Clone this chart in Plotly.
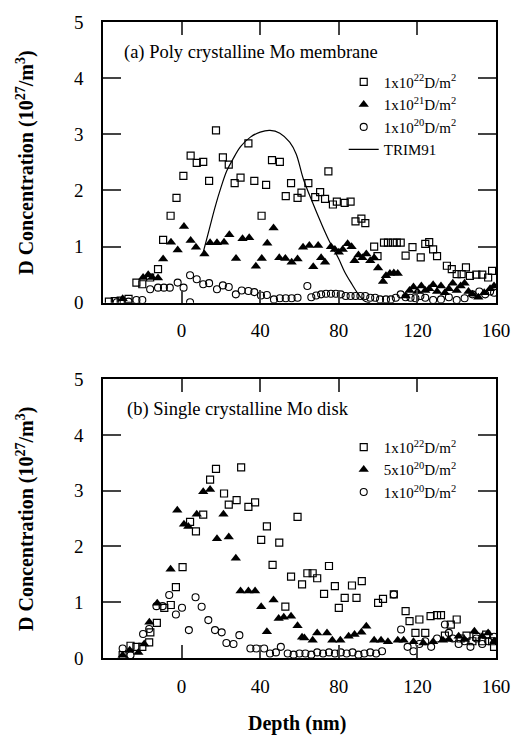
import plotly.graph_objects as go

# ---------------- data: panel (a) poly crystalline Mo membrane ----------------
a_sq_x = [-37, -34, -31, -27, -23, -20, -16, -12, -9.4, -5.6, -2.6, 0.9, 4.6, 7.7, 11, 14, 17.5, 21, 24, 27,
          30, 34, 37, 40.7, 43, 46, 50, 53, 55.7, 59, 61, 64.5, 68, 70.5, 73, 74.7, 77, 79, 83, 86,
          88.5, 91.5, 93.5, 98, 99.7, 103, 105, 107.5, 109.5, 111.5, 114, 117.5, 121.7, 124, 126, 128, 130,
          135, 137.5, 140, 142.5, 144.7, 146.7, 150, 153, 156, 158]
a_sq_y = [0.02, 0.03, 0.04, 0.07, 0.36, 0.33, 0.45, 0.6, 1.12, 1.55, 1.87, 2.26, 2.62, 2.49, 2.51, 2.17, 3.07, 2.59, 2.46, 2.13,
          2.23, 2.84, 2.17, 1.55, 2.1, 2.54, 2.51, 1.9, 2.13, 1.87, 1.96, 2.13, 1.88, 1.97, 1.85, 2.34, 1.75, 1.8, 1.78, 1.8,
          1.45, 1.5, 1.42, 1.0, 0.83, 1.07, 1.07, 1.07, 1.07, 1.07, 0.84, 0.99, 0.81, 1.05, 1.08, 0.95, 0.83,
          0.66, 0.6, 0.51, 0.51, 0.63, 0.48, 0.5, 0.5, 0.45, 0.57]

a_tr_x = [-30, -19.6, -17, -15, -12, -9.4, -5.4, -2, 1.2, 4.6, 7.3, 11.6, 14.5, 18, 21.6, 24.3, 27.7, 31, 34.4, 37.8,
          40.8, 43.6, 46.8, 49.7, 52.8, 56, 59, 61.8, 65, 67, 69.5, 71, 73, 76, 78, 80, 82, 84.5, 86.5, 88,
          90, 92, 94, 96, 98, 100, 102.5, 104, 106, 108, 110, 114, 116, 118, 120, 122, 124, 126, 128, 130,
          132, 134, 136, 138, 140, 142, 144, 146, 148, 151, 154, 157, 159]
a_tr_y = [0.07, 0.45, 0.5, 0.45, 0.44, 0.78, 1.08, 0.94, 1.36, 1.11, 0.99, 0.87, 1.07, 1.07, 1.08, 1.21, 0.79, 1.14, 1.16, 0.65,
          0.79, 1.06, 1.33, 0.8, 0.79, 0.72, 0.78, 0.99, 1.02, 0.64, 1.02, 0.8, 0.72, 1.0, 0.95, 0.9, 0.95, 1.05, 1.0, 0.75,
          0.85, 0.8, 0.87, 0.75, 0.8, 0.62, 0.38, 0.48, 0.52, 0.53, 0.52, 0.12, 0.22, 0.28, 0.2, 0.3, 0.22, 0.25, 0.32, 0.2,
          0.3, 0.18, 0.25, 0.35, 0.22, 0.3, 0.35, 0.2, 0.15, 0.1, 0.18, 0.25, 0.3]

a_ci_x = [-33, -27, -23, -20, -16, -12, -9, -6, -2, 1, 4.3, 4.3, 7.7, 11, 14, 18, 21, 24, 27.6, 30.6,
          34, 37, 40.4, 43.4, 47, 50, 53, 56, 59, 64, 66, 68.5, 71, 73.5, 76, 78.5, 81, 83.5, 86, 88.5,
          91, 93.5, 96, 98.5, 101, 104, 106.5, 109, 111.5, 114, 116.5, 119, 121.5, 124, 128, 132, 136, 140, 144, 148,
          151.5, 154.5, 157, 159]
a_ci_y = [0.01, 0.02, 0.05, 0.05, 0.24, 0.27, 0.27, 0.27, 0.36, 0.27, 0.01, 0.49, 0.42, 0.33, 0.35, 0.24, 0.31, 0.28, 0.15, 0.22,
          0.21, 0.19, 0.13, 0.14, 0.06, 0.08, 0.08, 0.08, 0.09, 0.3, 0.1, 0.13, 0.15, 0.16, 0.16, 0.16, 0.15, 0.12, 0.12, 0.12,
          0.12, 0.12, 0.09, 0.09, 0.06, 0.06, 0.06, 0.09, 0.15, 0.1, 0.09, 0.08, 0.12, 0.09, 0.05, 0.06, 0.1, 0.05, 0.08, 0.15,
          0.2, 0.15, 0.2, 0.18]

trim_x = [11, 14, 17, 20, 23, 26, 30, 35, 40, 45, 50, 55, 58.3, 62, 66.7, 71, 75, 80, 83, 86.7, 90, 93, 96]
trim_y = [0.9, 1.3, 1.7, 2.05, 2.35, 2.55, 2.78, 2.95, 3.04, 3.07, 3.02, 2.86, 2.65, 2.2, 1.78, 1.42, 1.11, 0.78, 0.55, 0.33, 0.15, 0.03, 0.0]

# ---------------- data: panel (b) single crystalline Mo disk ----------------
b_sq_x = [-30, -26, -23, -20, -16.5, -15.9, -12.6, -8.8, -5.5, -2.9, 0.5, 4.3, 7.3, 11, 14.5, 17.5, 21.6, 24, 28, 30.3,
          34, 37.4, 40.5, 43.4, 46.3, 49.7, 52.8, 55.7, 59, 61.3, 64, 66.7, 69, 72.5, 75, 78, 80, 83, 86.7, 89,
          91.7, 100, 102.5, 108, 114, 116, 119, 121, 124, 126.7, 130, 132, 134, 137, 140, 142, 145, 148, 150, 153,
          155, 158, 159]
b_sq_y = [0.05, 0.22, 0.2, 0.2, 0.28, 0.46, 0.63, 0.9, 0.95, 1.27, 1.63, 2.44, 2.27, 2.57, 3.2, 3.39, 2.95, 2.75, 2.83, 3.42,
          2.71, 2.79, 2.12, 2.36, 1.67, 2.07, 0.92, 1.46, 2.53, 1.32, 1.52, 1.52, 1.43, 1.15, 1.65, 1.29, 0.9, 1.08, 1.3, 1.08,
          1.38, 0.99, 1.06, 1.14, 0.84, 0.66, 0.45, 0.69, 0.45, 0.75, 0.77, 0.77, 0.4, 0.6, 0.69, 0.35, 0.4, 0.3, 0.38, 0.3,
          0.42, 0.3, 0.2]

b_tr_x = [-30, -26.4, -22, -19, -16.4, -12.4, -5.6, -2.2, 1.2, 3.4, 7.7, 11, 14.5, 18, 21.3, 24, 27.6, 30, 34, 37.4,
          40.5, 43.4, 46.8, 49.4, 52, 55.7, 59, 61.3, 62.5, 66.7, 69, 74, 76.7, 80.8, 85, 88, 91.5, 94, 98, 101.5,
          105, 110, 113, 118, 123, 128, 133, 136, 141, 144, 149, 153, 156, 159]
b_tr_y = [0.05, 0.14, 0.1, 0.25, 0.64, 0.98, 1.59, 2.65, 2.4, 2.36, 2.58, 2.98, 3.02, 2.14, 2.58, 2.17, 1.79, 1.2, 1.2, 1.2,
          0.92, 0.47, 1.04, 0.71, 0.73, 0.75, 0.58, 0.37, 0.36, 0.32, 0.45, 0.45, 0.32, 0.32, 0.39, 0.42, 0.46, 0.57, 0.32, 0.32,
          0.29, 0.32, 0.32, 0.29, 0.27, 0.29, 0.32, 0.33, 0.39, 0.33, 0.48, 0.39, 0.45, 0.3]

b_ci_x = [-30, -26, -19.6, -16.5, -12.8, -9.7, -6.3, -2.9, 0.2, 3.7, 7.1, 10.2, 13.6, 17, 20.4, 22.8, 26.4, 29.4, 35, 38,
          42, 45, 48, 50.5, 54, 57, 60, 63, 66, 69, 72, 75, 78, 81, 84, 87, 90, 93, 96, 99,
          102, 108, 111.7, 115, 118, 121, 124, 127, 130, 134, 136, 138, 141, 144, 147, 150, 153, 156, 159]
b_ci_y = [0.17, 0.05, 0.43, 0.52, 0.93, 0.93, 1.13, 0.78, 0.9, 0.5, 1.09, 0.92, 0.68, 0.5, 0.46, 0.27, 0.25, 0.41, 0.17, 0.17,
          0.17, 0.08, 0.1, 0.2, 0.08, 0.06, 0.08, 0.08, 0.06, 0.1, 0.08, 0.1, 0.08, 0.1, 0.08, 0.1, 0.06, 0.08, 0.1, 0.08,
          0.12, 1.14, 0.51, 0.2, 0.12, 0.25, 0.3, 0.2, 0.35, 0.6, 0.45, 0.35, 0.25, 0.3, 0.2, 0.35, 0.25, 0.3, 0.38]

x_ticks = [0, 40, 80, 120, 160]
y_ticks = [0, 1, 2, 3, 4, 5]

a_labels = ["1x10<sup>22</sup>D/m<sup>2</sup>", "1x10<sup>21</sup>D/m<sup>2</sup>",
            "1x10<sup>20</sup>D/m<sup>2</sup>", "TRIM91"]
b_labels = ["1x10<sup>22</sup>D/m<sup>2</sup>", "5x10<sup>20</sup>D/m<sup>2</sup>",
            "1x10<sup>20</sup>D/m<sup>2</sup>"]

FONT = "Liberation Serif"

fig = go.Figure()

sq = dict(symbol="square-open", size=7, color="black", line=dict(width=1.2, color="black"))
tr = dict(symbol="triangle-up", size=9, color="black", line=dict(width=0))
ci = dict(symbol="circle-open", size=7, color="black", line=dict(width=1.1, color="black"))

fig.add_trace(go.Scatter(x=a_sq_x, y=a_sq_y, mode="markers", marker=sq, name=a_labels[0],
                         xaxis="x", yaxis="y", legend="legend", legendgroup="a1"))
fig.add_trace(go.Scatter(x=a_tr_x, y=a_tr_y, mode="markers", marker=tr, name=a_labels[1],
                         xaxis="x", yaxis="y", legend="legend", legendgroup="a2"))
fig.add_trace(go.Scatter(x=a_ci_x, y=a_ci_y, mode="markers", marker=ci, name=a_labels[2],
                         xaxis="x", yaxis="y", legend="legend", legendgroup="a3"))
fig.add_trace(go.Scatter(x=trim_x, y=trim_y, mode="lines", line=dict(color="black", width=1.2, shape="spline"),
                         name=a_labels[3], xaxis="x", yaxis="y", legend="legend", legendgroup="a4"))

fig.add_trace(go.Scatter(x=b_sq_x, y=b_sq_y, mode="markers", marker=sq, name=b_labels[0],
                         xaxis="x2", yaxis="y2", legend="legend2", legendgroup="b1"))
fig.add_trace(go.Scatter(x=b_tr_x, y=b_tr_y, mode="markers", marker=tr, name=b_labels[1],
                         xaxis="x2", yaxis="y2", legend="legend2", legendgroup="b2"))
fig.add_trace(go.Scatter(x=b_ci_x, y=b_ci_y, mode="markers", marker=ci, name=b_labels[2],
                         xaxis="x2", yaxis="y2", legend="legend2", legendgroup="b3"))

W, H = 522, 736
ML, MR, MT, MB = 103, 19, 17, 78
PW = W - ML - MR
PH = H - MT - MB

xax = dict(range=[-40, 160], tickvals=x_ticks, ticks="inside", ticklen=13, tickwidth=1.5,
           showline=True, linecolor="black", linewidth=1.5, mirror="ticks", showgrid=False, zeroline=False,
           tickfont=dict(family=FONT, size=19, color="black"), ticklabelstandoff=10)
yax = dict(range=[0, 5], tickvals=y_ticks, ticks="inside", ticklen=18, tickwidth=1.5,
           showline=True, linecolor="black", linewidth=1.5, mirror="ticks", showgrid=False, zeroline=False,
           tickfont=dict(family=FONT, size=19, color="black"), ticklabelstandoff=14)

top_lo = (H - MB - 300) / PH
bot_hi = (H - MB - 377) / PH

fig.update_layout(
    width=W, height=H,
    margin=dict(l=ML, r=MR, t=MT, b=MB),
    paper_bgcolor="white", plot_bgcolor="white",
    font=dict(family=FONT, color="black"),
    xaxis=dict(**xax, anchor="y"),
    yaxis=dict(**yax, domain=[top_lo, 1], anchor="x"),
    xaxis2=dict(**xax, anchor="y2"),
    yaxis2=dict(**yax, domain=[0, bot_hi], anchor="x2"),
    legend=dict(x=(348 - ML) / PW, y=(H - MB - 61) / PH, xanchor="left", yanchor="top",
                bgcolor="rgba(0,0,0,0)", font=dict(family=FONT, size=15, color="black"),
                itemwidth=30, traceorder="normal"),
    legend2=dict(x=(348 - ML) / PW, y=(H - MB - 429) / PH, xanchor="left", yanchor="top",
                 bgcolor="rgba(0,0,0,0)", font=dict(family=FONT, size=15, color="black"),
                 itemwidth=30, traceorder="grouped", tracegroupgap=0),
    showlegend=True,
)

ann = []
ann.append(dict(text="(a) Poly crystalline Mo membrane", xref="paper", yref="paper",
                x=(122 - ML) / PW, y=(H - MB - 48) / PH, xanchor="left", yanchor="middle",
                showarrow=False, font=dict(family=FONT, size=18.5, color="black")))
ann.append(dict(text="(b) Single crystalline Mo disk", xref="paper", yref="paper",
                x=(125 - ML) / PW, y=(H - MB - 408) / PH, xanchor="left", yanchor="middle",
                showarrow=False, font=dict(family=FONT, size=18.5, color="black")))
ytitle = "<b>D Concentration (10<sup>27</sup>/m<sup>3</sup>)</b>"
for yc in [(17 + 300) / 2, (377 + 658) / 2]:
    ann.append(dict(text=ytitle, xref="paper", yref="paper", x=(24 - ML) / PW, y=(H - MB - yc) / PH,
                    xanchor="center", yanchor="middle", textangle=-90, showarrow=False,
                    font=dict(family=FONT, size=20, color="black")))
ann.append(dict(text="<b>Depth (nm)</b>", xref="paper", yref="paper", x=(300 - ML) / PW, y=(H - MB - 724) / PH,
                xanchor="center", yanchor="middle", showarrow=False, font=dict(family=FONT, size=20, color="black")))
fig.update_layout(annotations=ann)

fig.write_html("out.html", config={"displayModeBar": False},
               post_script="document.body.style.margin='0';document.body.style.overflow='hidden';")
